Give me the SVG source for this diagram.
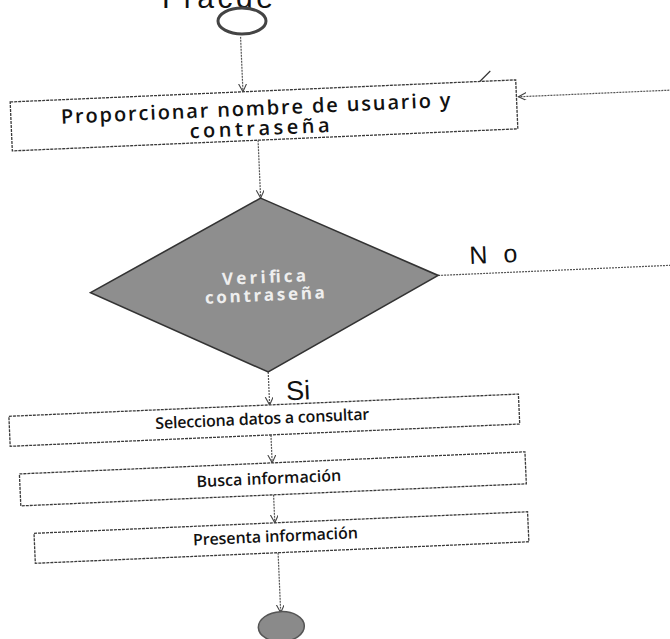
<svg xmlns="http://www.w3.org/2000/svg" width="670" height="639" viewBox="0 0 670 639">
<style>
  .box { fill: #ffffff; stroke: #3a3a3a; stroke-width: 1.3; stroke-dasharray: 3 1; }
  .txt { font-family: "Open Sans", "Liberation Sans", sans-serif; font-weight: 600; fill: #111; }
  .dtxt { font-family: "Open Sans", "Liberation Sans", sans-serif; font-weight: bold; font-size: 17px; fill: #eeeeee; }
  .con { stroke: #555; stroke-width: 1.2; fill: none; stroke-dasharray: 2 1; }
  .lbl { font-family: "Liberation Sans", "Open Sans", sans-serif; fill: #111; }
</style>
<defs>
  <marker id="arr" markerWidth="10" markerHeight="10" refX="8" refY="4" orient="auto" markerUnits="userSpaceOnUse">
    <path d="M0,0 L8,4 L0,8" fill="none" stroke="#444" stroke-width="1.1"/>
  </marker>
</defs>
<rect width="670" height="639" fill="#ffffff"/>
<g id="title">
  <text class="lbl" x="162" y="8" font-size="30" textLength="111" lengthAdjust="spacing">Fracde</text>
</g>
<g id="start">
  <ellipse cx="242" cy="21" rx="24" ry="13" fill="#ffffff" stroke="#444" stroke-width="3"/>
</g>
<g transform="rotate(-2.5 335 320)">
  <g id="connectors">
    <line class="con" x1="253" y1="33" x2="253" y2="88" marker-end="url(#arr)"/>
    <line class="con" x1="266" y1="137" x2="266" y2="195" marker-end="url(#arr)"/>
    <line class="con" x1="266" y1="369" x2="266" y2="402" marker-end="url(#arr)"/>
    <line class="con" x1="266" y1="432" x2="266" y2="460" marker-end="url(#arr)"/>
    <line class="con" x1="266" y1="492" x2="266" y2="520" marker-end="url(#arr)"/>
    <line class="con" x1="268" y1="550" x2="268" y2="610" marker-end="url(#arr)"/>
    <line class="con" x1="440" y1="280" x2="700" y2="280"/>
    <line class="con" x1="700" y1="105" x2="528" y2="105" marker-end="url(#arr)"/>
    <line x1="489" y1="89" x2="501" y2="78" stroke="#333" stroke-width="1.2"/>
  </g>
  <g id="n1">
    <rect class="box" x="20" y="88" width="506" height="49"/>
    <text class="txt" x="265" y="112" font-size="20" text-anchor="middle" textLength="390" lengthAdjust="spacing">Proporcionar nombre de usuario y</text>
    <text class="txt" x="268" y="132" font-size="20" text-anchor="middle" textLength="140" lengthAdjust="spacing">contraseña</text>
  </g>
  <g id="decision">
    <polygon points="266,195 440,280 266,369 92,282" fill="#8e8e8e" stroke="#333" stroke-width="1.6"/>
    <text class="dtxt" x="266" y="280" text-anchor="middle" textLength="84" lengthAdjust="spacing">Verifica</text>
    <text class="dtxt" x="266" y="298" text-anchor="middle" textLength="120" lengthAdjust="spacing">contraseña</text>
  </g>
  <g id="label-no">
    <text class="lbl" x="472" y="270" font-size="25" textLength="48" lengthAdjust="spacing">No</text>
  </g>
  <g id="label-si">
    <text class="lbl" x="283" y="398" font-size="27">Si</text>
  </g>
  <g id="n2">
    <rect class="box" x="5" y="402" width="510" height="30"/>
    <text class="txt" x="258" y="421" font-size="16" text-anchor="middle" textLength="214" lengthAdjust="spacing">Selecciona datos a consultar</text>
  </g>
  <g id="n3">
    <rect class="box" x="13" y="460" width="506" height="32"/>
    <text class="txt" x="262" y="481" font-size="16" text-anchor="middle" textLength="145" lengthAdjust="spacing">Busca información</text>
  </g>
  <g id="n4">
    <rect class="box" x="25" y="520" width="494" height="30"/>
    <text class="txt" x="266" y="539" font-size="16" text-anchor="middle" textLength="165" lengthAdjust="spacing">Presenta información</text>
  </g>
  <g id="end">
    <ellipse cx="268" cy="624" rx="23" ry="15" fill="#8a8a8a" stroke="#555" stroke-width="1.5"/>
  </g>
</g>
</svg>
